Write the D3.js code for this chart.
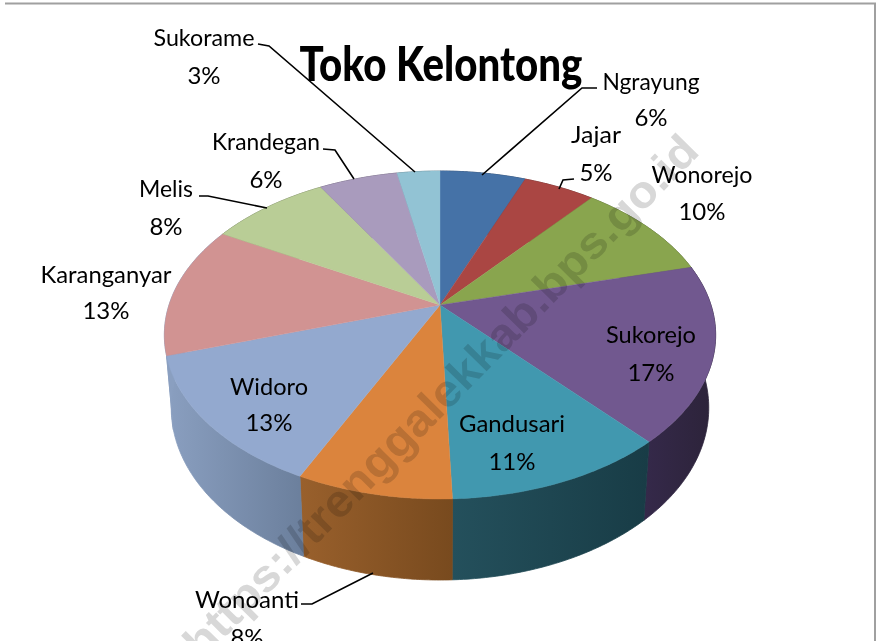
<!DOCTYPE html>
<html><head><meta charset="utf-8">
<script src="https://cdn.jsdelivr.net/npm/d3@7/dist/d3.min.js"></script>
<style>html,body{margin:0;padding:0;background:#fff}svg{display:block}</style></head>
<body><svg id="c" width="876" height="641"></svg>
<script>
(function(){
const categories=["Ngrayung","Jajar","Wonorejo","Sukorejo","Gandusari","Wonoanti","Widoro","Karanganyar","Melis","Krandegan","Sukorame"];
const values=[6,5,10,17.4,11,7.7,13,13,8.4,5.5,3];
const topColors=["#4572a7","#aa4643","#89a54e","#71588f","#4198af","#db843d","#93a9cf","#d19392","#b9cd96","#a99bbd","#92c3d4"];
const wallLeft=["#2a4466","#662a28","#526230","#35294a","#24505c","#99602c","#8a9fc0","#8a9fc0","#6f7b5a","#655c71","#577580"];
const wallRight=["#2a4466","#662a28","#526230","#2c2339","#183c46","#784a1e","#6b7f9c","#8a9fc0","#6f7b5a","#655c71","#577580"];
const title="Toko Kelontong";
const watermark="https://trenggalekkab.bps.go.id";

// layout (label centres and leader lines), kept apart from the data
const labelPos={Ngrayung:[651,82,651,118],Jajar:[596,135,596,173],Wonorejo:[702,175,702,212],Sukorejo:[651,335,651,373],Gandusari:[512,424,512,462],Wonoanti:[247,600,247,638],Widoro:[269,387,269,423],Karanganyar:[106,275,106,311],Melis:[166,189,166,227],Krandegan:[266,142,266,180],Sukorame:[204,38,204,76]};
const labelWidth={Ngrayung:97,Jajar:50,Wonorejo:101,Sukorejo:90,Gandusari:106,Wonoanti:104,Widoro:78,Karanganyar:131,Melis:54,Krandegan:108,Sukorame:101};
const leaders=[
 [[597,88],[582,88],[482,175]],
 [[574,179],[563,180],[559,189]],
 [[258,44],[269,46],[415,172]],
 [[323,149],[335,150],[354,179]],
 [[199,196],[208,196],[267,208]],
 [[301,604],[312,604],[373,573]]
];

const svg=d3.select("#c");
const cx=440, cy=305, R=271, A=158.5, k=-0.183, shrink=0.975;
const xS=d3.scaleLinear().domain([-1,1]).range([cx-R,cx+R]);
const yS=d3.scaleLinear().domain([-1,1]).range([cy-A,cy+A]);
// perspective projection of the unit disc onto the page
function topPt(t){const x=Math.sin(t),y=-Math.cos(t),w=1+k*y;return [xS(x/w),yS(y/w)];}
function botPt(t){const p=topPt(t),y=-Math.cos(t);return [cx+(p[0]-cx)*shrink,p[1]+71+10*y];}

const arcs=d3.pie().value(d=>d).sort(null)(values);
const defs=svg.append("defs");
const line=d3.line();
const pts=(a)=>d3.range(0,61).map(i=>a.startAngle+(a.endAngle-a.startAngle)*i/60);

// frame
svg.append("path").attr("d",line([[5,3.5],[875,3.5],[875,641]])).attr("fill","none").attr("stroke","#a0a0a0").attr("stroke-width",2);

// side wall
arcs.forEach((a,i)=>{
  const ps=pts(a), T=ps.map(t=>topPt(t)), B=ps.map(t=>botPt(t)).reverse();
  const xs=T.concat(B).map(p=>p[0]);
  const g=defs.append("linearGradient").attr("id","w"+i).attr("gradientUnits","userSpaceOnUse")
    .attr("x1",d3.min(xs)).attr("x2",d3.max(xs)).attr("y1",0).attr("y2",0);
  g.append("stop").attr("offset",0).attr("stop-color",wallLeft[i]);
  g.append("stop").attr("offset",1).attr("stop-color",wallRight[i]);
  svg.append("path").attr("d",line(T.concat(B))+"Z").attr("fill",`url(#w${i})`).attr("stroke",`url(#w${i})`).attr("stroke-width",0.8);
});
// top face
arcs.forEach((a,i)=>{
  const T=pts(a).map(t=>topPt(t));
  svg.append("path").attr("d",line([[cx,cy]].concat(T))+"Z").attr("fill",topColors[i]).attr("stroke",topColors[i]).attr("stroke-width",0.4);
});
// leaders
leaders.forEach(l=>svg.append("path").attr("d",line(l)).attr("fill","none").attr("stroke","#000").attr("stroke-width",1.6));

// labels
const F="Lato, Carlito, sans-serif";
arcs.forEach((a,i)=>{
  const n=categories[i],p=labelPos[n];
  svg.append("text").attr("x",p[0]).attr("y",p[1]+8).attr("text-anchor","middle").attr("font-family",F).attr("font-size",24).attr("fill","#000")
    .attr("textLength",labelWidth[n]).attr("lengthAdjust","spacingAndGlyphs").text(n);
  svg.append("text").attr("x",p[2]).attr("y",p[3]+8).attr("text-anchor","middle").attr("font-family",F).attr("font-size",24).attr("fill","#000")
    .text(Math.round(a.value)+"%");
});
const tt=svg.append("text").attr("text-anchor","middle").attr("font-family",F).attr("font-weight",900).attr("font-size",48).attr("fill","#000").text(title);
tt.attr("transform",`translate(441,81) scale(${283/tt.node().getComputedTextLength()},1)`);

// watermark
svg.append("text").attr("transform","translate(202,661) rotate(-45.5)").attr("font-family","'Liberation Sans',sans-serif").attr("font-weight",700).attr("font-size",45)
  .attr("fill","#d8d8d8").style("mix-blend-mode","multiply").attr("textLength",712).attr("lengthAdjust","spacingAndGlyphs").text(watermark);
})();
</script></body></html>
